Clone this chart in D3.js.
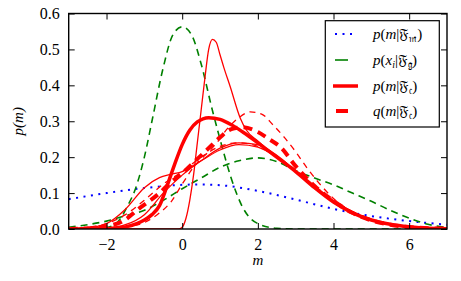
<!DOCTYPE html>
<html>
<head>
<meta charset="utf-8">
<script src="https://cdn.jsdelivr.net/npm/d3@7"></script>
<style>
  body { margin: 0; background: #fff; }
  svg text { font-family: "Liberation Serif", "DejaVu Serif", serif; }
</style>
</head>
<body>
<svg id="chart" width="461" height="281"></svg>
<script>
// data: [m, density]
let blueM = [[-3,0.083],[-2,0.100],[-1,0.114],[0,0.123],[0.5,0.124],[1,0.122],[2,0.106],[3,0.082],[4,0.056],[5,0.036],[6,0.022],[7,0.012]];
let greenTall = [[-3,0],[-2,0.004],[-1.7,0.02],[-1.43,0.067],[-1.25,0.108],[-1,0.2],[-0.8,0.3],[-0.5,0.45],[-0.25,0.54],[0,0.563],[0.25,0.54],[0.5,0.46],[0.8,0.33],[1,0.25],[1.3,0.14],[1.6,0.06],[2,0.015],[2.5,0.002],[3,0],[7,0]];
let greenWide = [[-3,0.005],[-2.5,0.012],[-2,0.022],[-1.5,0.037],[-1,0.052],[-0.5,0.08],[0,0.112],[0.5,0.142],[1,0.172],[1.5,0.19],[2,0.198],[2.5,0.188],[3,0.162],[3.5,0.142],[4,0.123],[4.5,0.1],[5,0.077],[5.5,0.052],[6,0.03],[6.5,0.013],[7,0.004]];
let redSpike = [[-3,0],[-0.1,0],[0,0.005],[0.1,0.03],[0.2,0.08],[0.3,0.15],[0.4,0.24],[0.5,0.33],[0.6,0.42],[0.7,0.5],[0.8,0.528],[0.9,0.52],[1,0.485],[1.1,0.45],[1.27,0.396],[1.53,0.31],[1.7,0.275],[2,0.245],[2.5,0.2],[3,0.16],[3.5,0.115],[4,0.075],[4.5,0.045],[5,0.025],[5.5,0.013],[6,0.006],[7,0.001]];
let redShoulder = [[-3,0],[-2.5,0.003],[-2,0.015],[-1.5,0.055],[-1,0.115],[-0.6,0.143],[-0.3,0.152],[0,0.16],[0.5,0.19],[1,0.22],[1.5,0.235],[2,0.228],[2.5,0.2],[3,0.16],[3.5,0.118],[4,0.078],[4.5,0.048],[5,0.027],[5.5,0.014],[6,0.006],[7,0.001]];
let redBroad = [[-3,0],[-2,0.003],[-1.5,0.012],[-1,0.04],[-0.5,0.1],[0,0.15],[0.5,0.19],[1,0.225],[1.5,0.24],[2,0.235],[2.5,0.205],[3,0.162],[3.5,0.12],[4,0.078],[4.5,0.047],[5,0.026],[5.5,0.013],[6,0.006],[7,0.001]];
let redDashA = [[-3,0],[-2,0.001],[-1.5,0.006],[-1,0.018],[-0.6,0.045],[-0.3,0.075],[0,0.125],[0.3,0.172],[0.6,0.205],[0.9,0.238],[1.2,0.28],[1.5,0.31],[1.8,0.326],[2.1,0.32],[2.4,0.29],[2.7,0.255],[3,0.215],[3.3,0.17],[3.6,0.13],[4,0.085],[4.5,0.048],[5,0.025],[5.5,0.012],[6,0.005],[7,0.001]];
let redDashB = [[-3,0.001],[-2.5,0.005],[-2,0.015],[-1.5,0.04],[-1,0.08],[-0.5,0.125],[0,0.16],[0.5,0.2],[1,0.23],[1.5,0.24],[2,0.23],[2.5,0.2],[3,0.165],[3.5,0.12],[4,0.08],[4.5,0.048],[5,0.027],[5.5,0.014],[6,0.006],[7,0.002]];
let pC = [[-3,0],[-2,0.001],[-1.5,0.006],[-1.2,0.015],[-1,0.025],[-0.8,0.04],[-0.6,0.065],[-0.4,0.12],[-0.2,0.18],[0,0.235],[0.2,0.275],[0.4,0.298],[0.7,0.31],[1,0.305],[1.3,0.29],[1.6,0.27],[2,0.24],[2.5,0.2],[3,0.16],[3.5,0.115],[4,0.075],[4.5,0.045],[5,0.025],[5.5,0.013],[6,0.006],[6.5,0.002],[7,0.001]];
let qC = [[-3,0],[-2.5,0.002],[-2,0.008],[-1.6,0.02],[-1.1,0.06],[-0.6,0.1],[-0.3,0.13],[0,0.155],[0.3,0.185],[0.65,0.22],[1,0.255],[1.3,0.278],[1.6,0.283],[2,0.27],[2.3,0.25],[2.6,0.228],[3,0.175],[3.5,0.12],[4,0.078],[4.5,0.045],[5,0.024],[5.5,0.012],[6,0.005],[7,0.001]];
let xTicks = [-2, 0, 2, 4, 6];
let yTicks = [0, 0.1, 0.2, 0.3, 0.4, 0.5, 0.6];
let legendLabels = [
  {pre:'p', arg:'m', sub:'𝔪'},
  {pre:'p', arg:'x', argSub:'i', sub:'𝔤'},
  {pre:'p', arg:'m', sub:'𝔠'},
  {pre:'q', arg:'m', sub:'𝔠'}
];

let svg = d3.select('#chart');
let serif = '"Liberation Serif", "DejaVu Serif", serif';
let pL = 68.7, pR = 447, pT = 13.5, pB = 229;
let x = d3.scaleLinear().domain([-3, 7]).range([pL, pR]);
let y = d3.scaleLinear().domain([0, 0.6]).range([pB, pT]);

svg.append('clipPath').attr('id','clip')
  .append('rect').attr('x',pL).attr('y',pT).attr('width',pR-pL).attr('height',pB-pT);

let line = d3.line().x(d => x(d[0])).y(d => y(d[1])).curve(d3.curveMonotoneX);
let plot = svg.append('g').attr('clip-path','url(#clip)');

function curve(data, color, width, dash){
  plot.append('path').datum(data)
    .attr('d', line)
    .attr('fill','none')
    .attr('stroke', color)
    .attr('stroke-width', width)
    .attr('stroke-dasharray', dash || null);
}
curve(blueM, '#0000ff', 2, '2,5.5');
curve(greenTall, '#008000', 1.6, '7,5');
curve(greenWide, '#008000', 1.6, '7,5');
curve(redSpike, '#ff0000', 1.3);
curve(redShoulder, '#ff0000', 1.3);
curve(redBroad, '#ff0000', 1.3);
curve(redDashA, '#ff0000', 1.3, '6,5');
curve(redDashB, '#ff0000', 1.3, '6,5');
curve(qC, '#ff0000', 4, '9,6');
curve(pC, '#ff0000', 3.5);

// axes with inward ticks on all sides
let bAxis = svg.append('g').attr('transform',`translate(0,${pB})`)
  .call(d3.axisBottom(x).tickValues(xTicks).tickSize(-6).tickPadding(10).tickFormat(d => d < 0 ? '\u2212' + (-d) : d));
let tAxis = svg.append('g').attr('transform',`translate(0,${pT})`)
  .call(d3.axisTop(x).tickValues(xTicks).tickSize(-6).tickFormat(''));
let lAxis = svg.append('g').attr('transform',`translate(${pL},0)`)
  .call(d3.axisLeft(y).tickValues(yTicks).tickSize(-6).tickPadding(9).tickFormat(d3.format('.1f')));
let rAxis = svg.append('g').attr('transform',`translate(${pR},0)`)
  .call(d3.axisRight(y).tickValues(yTicks).tickSize(-6).tickFormat(''));
[bAxis, tAxis, lAxis, rAxis].forEach(a => {
  a.attr('font-family', serif).attr('font-size', 16);
  a.select('.domain').remove();
  a.selectAll('line').attr('stroke','#000').attr('stroke-width',1);
  a.selectAll('text').attr('fill','#000');
});
svg.append('rect').attr('x',pL).attr('y',pT).attr('width',pR-pL).attr('height',pB-pT)
  .attr('fill','none').attr('stroke','#000').attr('stroke-width',1.4);

svg.append('text').attr('x', x(2)).attr('y', 265).attr('text-anchor','middle')
  .attr('font-family', serif).style('font-style','italic').style('font-size','15px').text('m');
svg.append('text').attr('transform',`translate(23,${(pT+pB)/2}) rotate(-90)`).attr('text-anchor','middle')
  .attr('font-family', serif).style('font-style','italic').style('font-size','15px').text('p(m)');

// legend
let lg = svg.append('g').attr('font-family', serif);
lg.append('rect').attr('x',325.3).attr('y',20.7).attr('width',114).attr('height',106.3)
  .attr('fill','#fff').attr('stroke','#000').attr('stroke-width',1.2);
let rowY = [34, 60, 86, 111];
let sample = [
  {color:'#0000ff', w:2, dash:'2,5.5', x1:335, x2:356},
  {color:'#008000', w:1.6, dash:null, x1:335, x2:348},
  {color:'#ff0000', w:3.5, dash:null, x1:333, x2:358},
  {color:'#ff0000', w:4, dash:null, x1:336, x2:348}
];
legendLabels.forEach((l, i) => {
  let s = sample[i];
  lg.append('line').attr('x1',s.x1).attr('x2',s.x2).attr('y1',rowY[i]).attr('y2',rowY[i])
    .attr('stroke',s.color).attr('stroke-width',s.w).attr('stroke-dasharray',s.dash);
  let t = lg.append('text').attr('x',373).attr('y',rowY[i]+4.5).style('font-size','15px');
  t.append('tspan').style('font-style','italic').text(l.pre);
  t.append('tspan').text('(');
  t.append('tspan').style('font-style','italic').text(l.arg);
  if (l.argSub) t.append('tspan').attr('dy',3).style('font-size','10px').style('font-style','italic').text(l.argSub);
  t.append('tspan').attr('dy', l.argSub ? -3 : 0).text('|𝔉');
  t.append('tspan').attr('dy',3).style('font-size','10px').text(l.sub);
  t.append('tspan').attr('dy',-3).text(')');
});
</script>
</body>
</html>
